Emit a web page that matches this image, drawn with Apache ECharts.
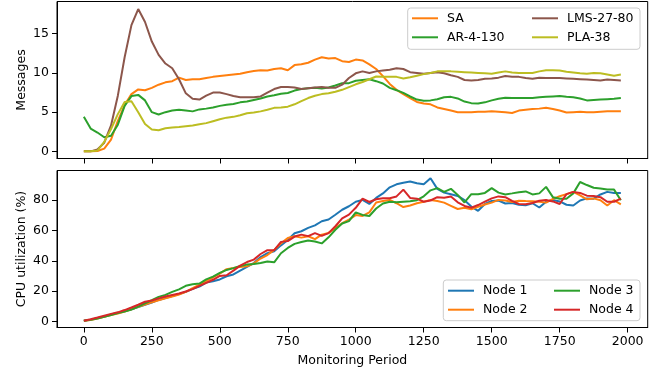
<!DOCTYPE html>
<html>
<head>
<meta charset="utf-8">
<script src="https://cdn.jsdelivr.net/npm/echarts@6/dist/echarts.min.js"></script>
<style>
html,body{margin:0;padding:0;background:#fff;}
#chart{width:670px;height:372px;}
</style>
</head>
<body>
<div id="chart"></div>
<script>
// ---- data ----
const periods = [0,25,50,75,100,125,150,175,200,225,250,275,300,325,350,375,400,425,450,475,
500,525,550,575,600,625,650,675,700,725,750,775,800,825,850,875,900,925,950,975,
1000,1025,1050,1075,1100,1125,1150,1175,1200,1225,1250,1275,1300,1325,1350,1375,1400,1425,1450,1475,
1500,1525,1550,1575,1600,1625,1650,1675,1700,1725,1750,1775,1800,1825,1850,1875,1900,1925,1950,1975];

const xTicks = [0,250,500,750,1000,1250,1500,1750,2000];
const msgTicks = [0,5,10,15];
const cpuTicks = [0,20,40,60,80];

const msgNames = ['SA','AR-4-130','LMS-27-80','PLA-38'];
const cpuNames = ['Node 1','Node 2','Node 3','Node 4'];

const saValues = [0,0,0.05,0.35,1.5,3.9,5.9,7.3,7.9,7.8,
8.1,8.5,8.8,8.95,9.4,9.1,9.2,9.2,9.35,9.5,
9.6,9.7,9.8,9.9,10.1,10.25,10.35,10.3,10.5,10.6,
10.35,11.0,11.1,11.3,11.7,12.0,11.85,11.9,11.5,11.4,
11.7,11.6,11.1,10.5,9.6,8.6,7.85,7.3,6.8,6.3,
6.1,6.0,5.6,5.4,5.2,5.0,5.0,5.0,5.05,5.05,
5.1,5.05,5.0,4.9,5.2,5.3,5.4,5.45,5.55,5.4,
5.2,4.95,5.0,5.05,5.0,5.0,5.05,5.1,5.1,5.1];

const arValues = [4.4,2.9,2.4,1.8,2.0,3.4,5.8,7.05,7.2,6.5,
5.0,4.7,5.0,5.2,5.3,5.2,5.1,5.35,5.45,5.6,
5.8,5.95,6.05,6.25,6.35,6.55,6.75,7.0,7.15,7.35,
7.45,7.75,7.95,8.05,8.1,8.0,8.15,8.4,8.7,8.7,
9.0,9.1,9.2,8.95,8.65,8.1,7.8,7.45,7.0,6.6,
6.45,6.5,6.65,6.9,6.95,6.75,6.35,6.15,6.1,6.25,
6.5,6.7,6.85,6.8,6.8,6.8,6.8,6.9,6.95,7.0,
7.05,6.95,6.9,6.75,6.5,6.55,6.6,6.65,6.7,6.8];

const lmsValues = [0,0,0.25,1.1,3.3,7.1,12.0,16.1,18.15,16.5,
14.0,12.3,11.2,10.6,9.2,7.4,6.7,6.6,7.1,7.5,
7.5,7.3,7.05,6.9,6.9,6.9,7.0,7.5,7.95,8.2,
8.2,8.15,7.95,8.05,8.15,8.2,8.1,8.1,8.5,9.35,
9.95,10.2,10.0,10.2,10.3,10.4,10.6,10.5,10.1,10.0,
9.9,10.0,10.1,9.95,9.7,9.5,9.1,9.05,9.1,9.25,
9.3,9.4,9.6,9.5,9.5,9.35,9.25,9.4,9.35,9.35,
9.35,9.3,9.25,9.2,9.15,9.1,9.05,9.15,9.1,9.05];

const plaValues = [0,0,0.1,1.2,2.85,4.75,6.3,6.4,5.0,3.5,
2.8,2.7,2.95,3.05,3.1,3.2,3.3,3.45,3.6,3.85,
4.1,4.3,4.4,4.6,4.85,4.95,5.1,5.3,5.55,5.6,
5.7,6.0,6.4,6.8,7.1,7.3,7.4,7.6,7.85,8.2,
8.55,8.85,9.2,9.55,9.5,9.5,9.5,9.3,9.45,9.65,
9.85,10.0,10.2,10.2,10.2,10.15,10.1,10.05,10.0,9.95,
9.9,10.05,10.2,10.05,10.0,10.0,10.0,10.2,10.35,10.35,
10.3,10.15,10.05,9.95,9.9,10.0,9.95,9.8,9.65,9.8];

const node1Values = [0.5,1.2,2.2,3.2,4.6,5.8,6.8,8.0,9.5,11.0,
12.5,14.2,15.5,16.7,18.0,19.6,21.5,23.0,25.6,26.5,
27.7,29.8,31.0,33.5,36.0,38.5,42.5,45.0,46.3,50.2,
53.8,58.2,59.5,61.7,63.4,66.1,67.3,70.4,73.7,76.0,
79.0,80.2,77.5,81.5,84.5,88.5,90.5,91.5,92.3,91.2,
90.5,94.5,87.5,85.0,83.9,82.8,80.0,75.8,73.0,77.5,
79.5,79.8,77.8,78.2,77.0,76.6,78.0,75.2,79.0,80.2,
79.2,77.0,76.5,79.8,81.2,81.0,83.8,85.5,84.8,84.8];

const node2Values = [0.5,1.0,1.9,3.0,4.2,5.2,6.5,8.0,9.6,11.2,
12.6,14.0,15.2,16.5,17.8,19.5,22.0,24.2,26.8,29.0,
31.5,34.5,35.2,36.0,36.4,38.3,41.5,43.8,47.2,51.5,
55.0,56.2,55.3,56.2,54.3,57.3,58.4,61.6,64.8,67.2,
70.2,69.6,72.0,78.5,79.5,80.2,78.0,75.5,76.5,78.0,
79.0,80.2,79.5,78.4,76.3,74.2,75.0,74.0,75.6,77.2,
78.4,80.2,79.8,78.8,79.6,79.4,79.3,79.0,78.4,80.8,
82.6,84.0,85.5,83.2,80.6,81.2,80.0,76.5,80.0,77.3];

const node3Values = [0.5,1.1,2.0,3.0,4.3,5.5,6.5,7.8,9.8,12.0,
14.0,16.2,17.5,19.5,21.2,23.5,24.6,25.0,27.8,29.6,
32.0,34.0,35.2,36.6,37.5,37.9,38.6,39.6,39.0,45.0,
48.5,51.2,52.4,53.4,52.8,51.5,55.5,60.5,64.6,66.2,
72.0,70.3,69.6,74.5,77.8,79.0,78.6,79.0,79.3,80.0,
82.6,86.5,88.0,85.5,87.5,83.5,78.5,84.0,83.9,84.8,
88.0,85.0,83.8,84.5,85.3,85.8,83.8,84.5,88.8,82.0,
81.0,81.0,84.5,92.0,90.0,88.2,87.7,87.0,87.0,80.0];

const node4Values = [0.5,1.5,2.6,3.8,5.0,6.0,7.5,9.2,11.0,13.0,
13.8,15.2,16.5,17.5,18.4,19.8,21.3,23.5,25.5,27.5,
30.0,30.5,33.5,36.8,39.2,40.8,44.5,47.0,47.0,52.5,
53.0,56.0,57.3,56.3,58.3,56.5,58.3,62.8,68.0,70.5,
75.0,81.0,78.8,80.6,81.3,81.3,82.5,87.0,81.5,81.0,
79.0,79.8,82.0,81.6,82.4,78.6,76.2,75.0,76.8,79.0,
81.2,82.5,82.0,79.5,77.5,77.3,78.2,79.6,80.2,79.2,
77.5,84.0,85.5,84.8,83.0,82.8,82.0,79.0,79.0,81.0];

// ---- chart ----
const FONT = 'DejaVu Sans';
const FS = 12.5;
const TXT = '#000';
const X_MIN = -98.75, X_MAX = 2073.75;

function pairs(vals){ return periods.map((p,i)=>[p, vals[i]]); }
function plain(v){ return String(v); }

function lineSeries(name, vals, color, idx){
  return {
    type:'line', name:name, data:pairs(vals), xAxisIndex:idx, yAxisIndex:idx,
    showSymbol:false, symbol:'none', smooth:false,
    lineStyle:{color:color, width:2}, itemStyle:{color:color},
    emphasis:{disabled:true}, clip:true
  };
}

function xAxisCfg(idx, withLabels){
  const a = {
    gridIndex:idx, type:'value', min:X_MIN, max:X_MAX,
    axisLine:{show:true, onZero:false, lineStyle:{color:'#000', width:1}},
    axisTick:{show:true, length:5, inside:false, lineStyle:{color:'#000', width:1}, customValues:xTicks},
    axisLabel:{show:withLabels, customValues:xTicks, formatter:plain, fontSize:FS, color:TXT, fontFamily:FONT, margin:8},
    splitLine:{show:false}
  };
  if (withLabels){
    a.name = 'Monitoring Period';
    a.nameLocation = 'middle';
    a.nameGap = 27;
    a.nameMoveOverlap = false;
    a.nameTextStyle = {fontSize:FS, color:TXT, fontFamily:FONT};
  }
  return a;
}

function yAxisCfg(idx, name, mn, mx, ticks){
  return {
    gridIndex:idx, type:'value', min:mn, max:mx,
    name:name, nameLocation:'middle', nameGap:29, nameMoveOverlap:false,
    nameTextStyle:{fontSize:FS, color:TXT, fontFamily:FONT},
    axisLine:{show:true, onZero:false, lineStyle:{color:'#000', width:1}},
    axisTick:{show:true, length:5, lineStyle:{color:'#000', width:1}, customValues:ticks},
    axisLabel:{customValues:ticks, formatter:plain, fontSize:FS, color:TXT, fontFamily:FONT, margin:8},
    splitLine:{show:false}
  };
}

function legendCfg(names, left, top){
  return {
    data:names, orient:'vertical', left:left, top:top, padding:0, itemGap:0,
    itemWidth:26, itemHeight:2, icon:'rect',
    textStyle:{fontSize:FS, color:TXT, fontFamily:FONT, lineHeight:19, padding:[0,0,0,4]},
    selectedMode:false, z:5
  };
}

const chart = echarts.init(document.getElementById('chart'), null, {renderer:'canvas'});
chart.setOption({
  animation:false,
  backgroundColor:'#fff',
  textStyle:{fontFamily:FONT},
  grid:[
    {left:57, right:22.3, top:1.5, height:157, show:true, borderColor:'#000', borderWidth:1, backgroundColor:'transparent'},
    {left:57, right:22.3, top:170.5, height:157, show:true, borderColor:'#000', borderWidth:1, backgroundColor:'transparent'}
  ],
  xAxis:[xAxisCfg(0,false), xAxisCfg(1,true)],
  yAxis:[
    yAxisCfg(0,'Messages',-0.91,19.11,msgTicks),
    yAxisCfg(1,'CPU utilization (%)',-4.0,99.6,cpuTicks)
  ],
  legend:[
    legendCfg([msgNames[0], msgNames[1]], 412, 8.8),
    legendCfg([msgNames[2], msgNames[3]], 532, 8.8),
    legendCfg([cpuNames[0], cpuNames[1]], 448, 281.2),
    legendCfg([cpuNames[2], cpuNames[3]], 554, 281.2)
  ],
  graphic:[
    {type:'rect', z:3, shape:{x:407.7, y:8, width:232.3, height:41.3, r:3},
     style:{fill:'rgba(255,255,255,0.8)', stroke:'#cccccc', lineWidth:1}},
    {type:'rect', z:3, shape:{x:443.3, y:280, width:196.7, height:40.7, r:3},
     style:{fill:'rgba(255,255,255,0.8)', stroke:'#cccccc', lineWidth:1}}
  ],
  series:[
    lineSeries(msgNames[0], saValues, '#ff7f0e', 0),
    lineSeries(msgNames[1], arValues, '#2ca02c', 0),
    lineSeries(msgNames[2], lmsValues, '#8c564b', 0),
    lineSeries(msgNames[3], plaValues, '#bcbd22', 0),
    lineSeries(cpuNames[0], node1Values, '#1f77b4', 1),
    lineSeries(cpuNames[1], node2Values, '#ff7f0e', 1),
    lineSeries(cpuNames[2], node3Values, '#2ca02c', 1),
    lineSeries(cpuNames[3], node4Values, '#d62728', 1)
  ]
});
</script>
</body>
</html>
